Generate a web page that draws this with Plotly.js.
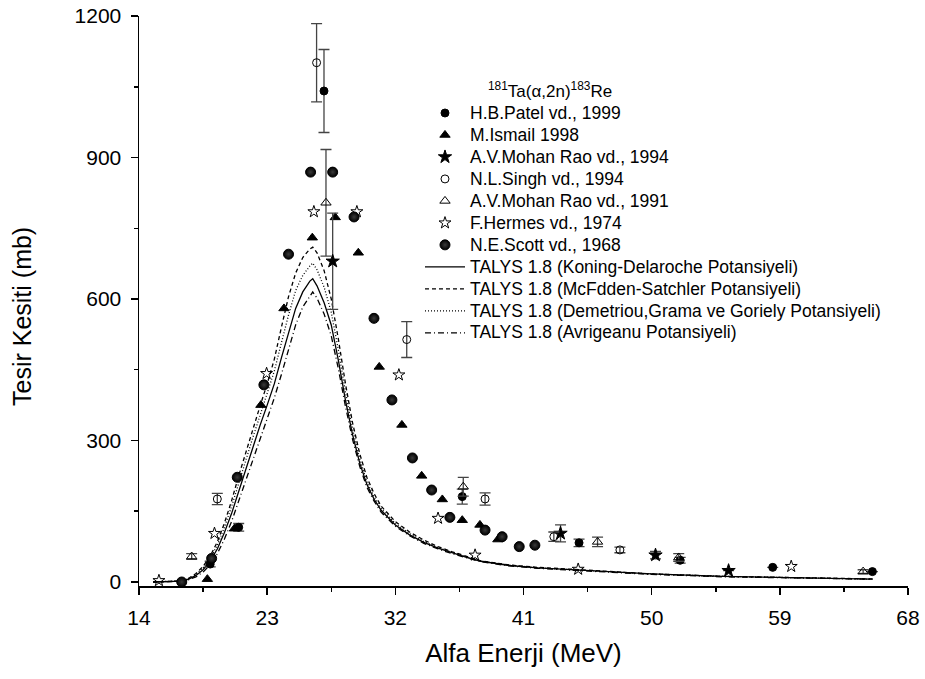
<!DOCTYPE html>
<html>
<head>
<meta charset="utf-8">
<script src="https://cdn.plot.ly/plotly-3.0.1.min.js"></script>
<style>html,body{margin:0;padding:0;background:#fff;}#chart{width:925px;height:679px;}</style>
</head>
<body>
<div id="chart"></div>
<script>
// ---- Data ----
const talysE = [15, 16, 17, 17.5, 18, 18.5, 19, 19.5, 20, 20.5, 21, 21.5, 22, 22.5, 23, 23.5, 24, 24.5, 25, 25.5, 26, 26.2, 26.5, 27, 27.5, 28, 28.5, 29, 29.5, 30, 30.5, 31, 32, 33, 34, 35, 36, 37, 38, 40, 42, 45, 50, 55, 60, 65.5];
const talysKoning = [0, 0.5, 2, 6, 14, 26, 45, 70, 105, 145, 192, 240, 287, 332, 375, 420, 475, 530, 580, 615, 638, 643, 628, 592, 545, 470, 385, 312, 252, 207, 176, 152, 121, 100, 84, 72, 62, 52, 44, 35, 30, 25, 17, 12, 9, 6];
const talysMcFadden = [0, 0.6, 3, 8, 18, 33, 55, 85, 125, 172, 225, 276, 325, 373, 420, 472, 540, 605, 655, 688, 706, 710, 698, 660, 600, 515, 420, 337, 272, 222, 188, 161, 128, 106, 89, 75, 64, 54, 45, 36, 31, 26, 17, 12, 9, 6.5];
const talysDemetriou = [0, 0.5, 2.5, 7, 16, 30, 50, 78, 116, 160, 210, 259, 307, 353, 398, 447, 507, 566, 618, 650, 670, 676, 662, 625, 572, 492, 402, 324, 261, 213, 181, 156, 124, 103, 86, 73, 63, 53, 44, 36, 30, 25, 17, 12, 9, 6];
const talysAvrigeanu = [0, 0.4, 1.5, 5, 11, 21, 37, 60, 91, 128, 172, 218, 263, 307, 348, 390, 440, 493, 545, 583, 608, 615, 602, 568, 522, 452, 372, 302, 245, 201, 172, 148, 118, 98, 82, 70, 60, 51, 43, 34, 29, 24, 16, 11, 8.5, 6];

const patelE   = [19.0, 21.0, 26.99, 36.7, 44.9, 52.0, 58.5, 65.5];
const patelY   = [38, 116, 1041, 181, 83, 46, 31, 22];
const patelErr = [6, 8, 88, 16, 8, 6, 0, 0];

const ismailE = [18.8, 20.7, 22.56, 24.18, 26.17, 27.78, 29.4, 30.87, 32.46, 33.85, 35.3, 36.7, 37.94, 39.2];
const ismailY = [6, 113, 375, 580, 730, 773, 698, 456, 333, 225, 175, 131, 121, 90];

const rao94E   = [27.6, 43.6, 50.27, 55.4];
const rao94Y   = [680, 103, 57, 24];
const rao94Err = [102, 18, 8, 0];

const singhE   = [19.5, 26.47, 32.8, 38.3, 43.13, 47.77];
const singhY   = [176, 1101, 514, 176, 96, 68];
const singhErr = [12, 83, 38, 13, 10, 6];

const rao91E   = [17.7, 27.13, 36.77, 46.2, 51.9, 64.85];
const rao91Y   = [54, 804, 202, 85, 52, 22];
const rao91Err = [6, 113, 20, 10, 8, 4];

const hermesE = [15.4, 19.3, 22.96, 26.28, 29.3, 32.25, 35.0, 37.6, 44.84, 59.8];
const hermesY = [3, 103, 442, 785, 785, 439, 135, 57, 27, 33];

const scottE = [17.0, 19.1, 20.9, 22.77, 24.5, 26.05, 27.6, 29.1, 30.5, 31.76, 33.2, 34.55, 35.83, 38.3, 39.5, 40.7, 41.8];
const scottY = [0, 50, 222, 418, 695, 869, 869, 774, 559, 386, 263, 195, 137, 110, 96, 75, 78];

const legendTitle = '<sup>181</sup>Ta(α,2n)<sup>183</sup>Re';
const xTitle = 'Alfa Enerji (MeV)';
const yTitle = 'Tesir Kesiti (mb)';
const xTicks = [14, 23, 32, 41, 50, 59, 68];
const yTicks = [0, 300, 600, 900, 1200];

// ---- Traces ----
const FONT = 'Liberation Sans, Arial, sans-serif';
const errStyle = {color: '#444', thickness: 1.3, width: 5.5};

function curve(y, name, dash, rank) {
  return {x: talysE, y: y, name: name, type: 'scatter', mode: 'lines',
    line: {color: '#000', width: 1.3, dash: dash}, legendrank: rank};
}
function pts(x, y, err, name, symbol, size, rank, extra) {
  const t = {x: x, y: y, name: name, type: 'scatter', mode: 'markers',
    marker: Object.assign({symbol: symbol, size: size, color: '#000',
      line: {color: '#000', width: 1}}, extra || {}), legendrank: rank};
  if (err) t.error_y = Object.assign({type: 'data', array: err, visible: true}, errStyle);
  return t;
}

const traces = [
  curve(talysKoning, 'TALYS 1.8 (Koning-Delaroche Potansiyeli)', 'solid', 8),
  curve(talysMcFadden, 'TALYS 1.8 (McFdden-Satchler Potansiyeli)', '4px,3px', 9),
  curve(talysDemetriou, 'TALYS 1.8 (Demetriou,Grama ve Goriely Potansiyeli)', '1px,2px', 10),
  curve(talysAvrigeanu, 'TALYS 1.8 (Avrigeanu Potansiyeli)', '6px,3px,1px,3px', 11),
  pts(patelE, patelY, patelErr, 'H.B.Patel vd., 1999', 'circle', 8, 1),
  pts(ismailE, ismailY, null, 'M.Ismail 1998', 'triangle-up', 9, 2),
  pts(rao94E, rao94Y, rao94Err, 'A.V.Mohan Rao vd., 1994', 'star', 10, 3),
  pts(singhE, singhY, singhErr, 'N.L.Singh vd., 1994', 'circle-open', 8, 4),
  pts(rao91E, rao91Y, rao91Err, 'A.V.Mohan Rao vd., 1991', 'triangle-up-open', 9, 5),
  pts(hermesE, hermesY, null, 'F.Hermes vd., 1974', 'star-open', 9, 6),
  pts(scottE, scottY, null, 'N.E.Scott vd., 1968', 'circle', 10, 7,
      {gradient: {type: 'radial', color: '#3a3a3a'}})
];

const axisCommon = {
  showline: true, linecolor: '#000', linewidth: 1.5, mirror: false,
  showgrid: false, zeroline: false,
  ticks: 'outside', ticklen: 7, tickwidth: 1.5, tickcolor: '#000',
  tickfont: {family: FONT, size: 21, color: '#000'},
  ticklabelstandoff: 5
};

const layout = {
  width: 925, height: 679,
  margin: {l: 139, r: 17, t: 16, b: 93, pad: 0},
  paper_bgcolor: '#fff', plot_bgcolor: '#fff',
  font: {family: FONT, color: '#000'},
  showlegend: true,
  xaxis: Object.assign({}, axisCommon, {
    range: [14, 68], tickvals: xTicks, ticktext: xTicks.map(String),
    minor: {ticks: 'outside', ticklen: 4, tickwidth: 1.5, tickcolor: '#000', dtick: 4.5, tick0: 14},
    title: {text: xTitle, font: {family: FONT, size: 26, color: '#000'}, standoff: 16}
  }),
  yaxis: Object.assign({}, axisCommon, {
    range: [-8.5, 1200], tickvals: yTicks, ticktext: yTicks.map(String),
    minor: {ticks: 'outside', ticklen: 4, tickwidth: 1.5, tickcolor: '#000', dtick: 150, tick0: 0}
  }),
  legend: {
    x: 0.3654, xanchor: 'left', y: 0.8579, yanchor: 'top',
    bgcolor: 'rgba(0,0,0,0)', borderwidth: 0, itemwidth: 40,
    font: {family: FONT, size: 14.6, color: '#000'},
    traceorder: 'normal', tracegroupgap: 0
  },
  annotations: [
    {text: legendTitle, xref: 'paper', yref: 'paper', x: 0.5345, y: 0.870,
     xanchor: 'center', yanchor: 'middle', showarrow: false,
     font: {family: FONT, size: 17, color: '#000'}},
    {text: yTitle, xref: 'paper', yref: 'paper', x: -0.1521, y: 0.472,
     xanchor: 'center', yanchor: 'middle', showarrow: false, textangle: -90,
     font: {family: FONT, size: 25, color: '#000'}}
  ]
};

Plotly.newPlot('chart', traces, layout, {displayModeBar: false, staticPlot: true}).then(function (gd) {
  // enlarge legend text to match the reference while keeping its compact row spacing
  gd.querySelectorAll('.legend .legendtext').forEach(function (el) {
    el.style.fontSize = '17.5px';
  });
  gd.querySelectorAll('.legend [clip-path]').forEach(function (el) {
    el.removeAttribute('clip-path');
  });
});
</script>
</body>
</html>
